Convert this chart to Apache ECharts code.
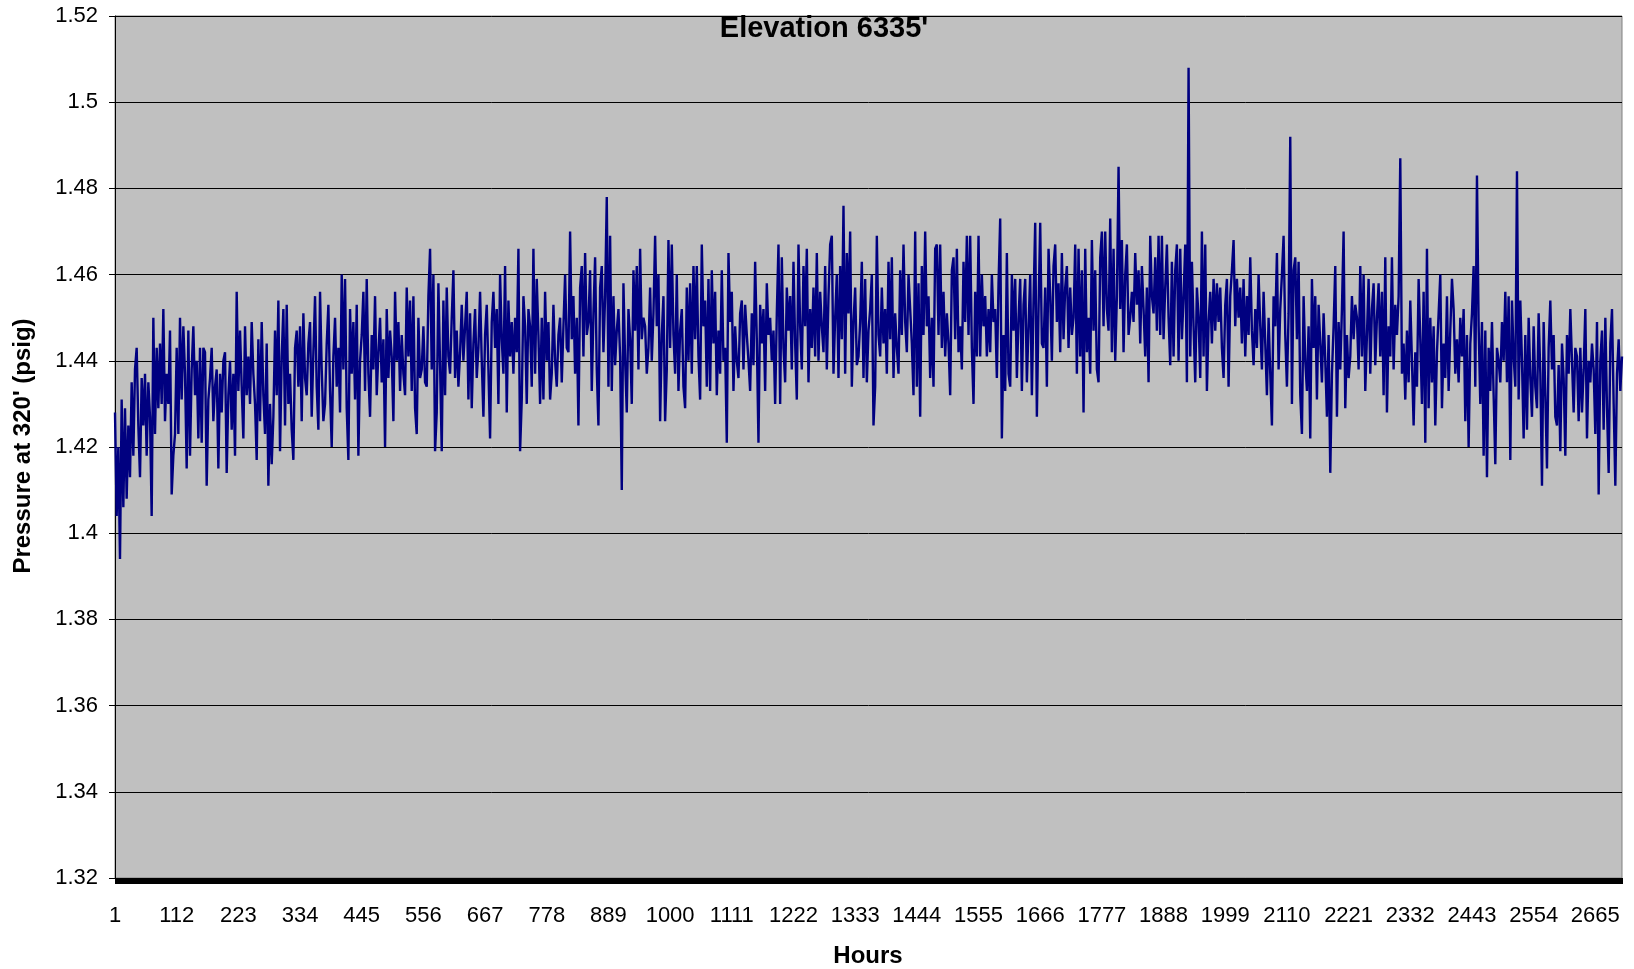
<!DOCTYPE html>
<html>
<head>
<meta charset="utf-8">
<script src="https://cdn.jsdelivr.net/npm/echarts@6/dist/echarts.min.js"></script>
<style>
  html, body { margin: 0; padding: 0; background: #fff; }
  #chart { width: 1634px; height: 969px; }
</style>
</head>
<body>
<div id="chart"></div>
<script>
// Pressure at 320' (psig), one reading every 3 hours, in blocks of consecutive readings
const block01 = [1.428,1.404,1.420,1.394,1.431,1.406,1.429,1.408,1.425,1.413,1.435,1.418,1.438,1.443,1.425,1.413,1.436,1.425,1.437,1.418,1.435,1.427,1.404,1.450,1.423,1.443,1.429,1.444,1.430,1.452,1.426,1.437,1.430,1.447,1.409,1.418,1.423,1.443,1.423,1.450,1.431,1.448,1.437,1.415,1.447,1.418,1.438,1.448,1.432,1.440,1.422,1.443,1.421,1.443,1.442,1.411,1.431,1.436,1.443,1.426,1.434,1.438,1.415,1.437,1.428,1.440,1.442,1.414,1.432,1.440,1.424,1.437,1.418,1.456,1.433,1.447,1.434,1.422,1.448,1.432,1.441,1.430,1.449];
const block02 = [1.437,1.430,1.417,1.445,1.426,1.449,1.432,1.423,1.444,1.411,1.430,1.416,1.427,1.447,1.432,1.454,1.419,1.441,1.452,1.425,1.453,1.430,1.437,1.424,1.417,1.443,1.447,1.434,1.448,1.426,1.451,1.436,1.432,1.444,1.449,1.427,1.442,1.455,1.434,1.424,1.456,1.438,1.426,1.430,1.444,1.453,1.433,1.420,1.441,1.450,1.434,1.443,1.428,1.460,1.438,1.459,1.429,1.417,1.452,1.437,1.449,1.431,1.453,1.418,1.440,1.446,1.456,1.433,1.459,1.437,1.427,1.446,1.438,1.455,1.432,1.442,1.450,1.435,1.445,1.420,1.452,1.436,1.447];
const block03 = [1.441,1.426,1.456,1.440,1.449,1.433,1.446,1.437,1.432,1.457,1.441,1.454,1.433,1.455,1.429,1.423,1.450,1.436,1.438,1.448,1.435,1.434,1.455,1.466,1.438,1.460,1.419,1.428,1.458,1.439,1.419,1.454,1.432,1.457,1.441,1.437,1.450,1.461,1.436,1.447,1.434,1.442,1.453,1.440,1.448,1.456,1.431,1.451,1.429,1.444,1.452,1.436,1.443,1.456,1.440,1.427,1.446,1.453,1.438,1.422,1.449,1.456,1.443,1.452,1.430,1.460,1.445,1.437,1.462,1.428,1.454,1.441,1.449,1.437,1.450,1.442,1.466,1.419,1.431,1.455,1.448,1.430,1.452];
const block04 = [1.448,1.434,1.466,1.437,1.459,1.446,1.430,1.450,1.431,1.456,1.440,1.449,1.431,1.437,1.453,1.440,1.434,1.446,1.450,1.435,1.448,1.460,1.443,1.442,1.470,1.445,1.455,1.437,1.450,1.425,1.457,1.462,1.441,1.465,1.446,1.449,1.461,1.433,1.451,1.464,1.438,1.425,1.457,1.462,1.442,1.455,1.478,1.434,1.469,1.433,1.455,1.439,1.447,1.452,1.441,1.410,1.458,1.440,1.428,1.452,1.445,1.430,1.461,1.447,1.462,1.438,1.466,1.445,1.450,1.448,1.437,1.443,1.457,1.440,1.451,1.469,1.448,1.460,1.426,1.446,1.455,1.426];
const block05 = [1.438,1.468,1.443,1.467,1.446,1.437,1.460,1.433,1.447,1.452,1.434,1.429,1.457,1.440,1.458,1.437,1.462,1.445,1.462,1.441,1.431,1.467,1.448,1.454,1.434,1.459,1.433,1.461,1.444,1.456,1.432,1.447,1.437,1.461,1.440,1.443,1.421,1.465,1.449,1.456,1.433,1.448,1.440,1.436,1.451,1.454,1.438,1.453,1.446,1.440,1.433,1.451,1.439,1.463,1.445,1.421,1.453,1.444,1.452,1.433,1.458,1.446,1.450,1.440,1.447,1.430,1.451,1.467,1.430,1.464,1.443,1.435,1.457,1.447,1.455,1.438,1.463,1.444,1.431,1.467,1.448,1.438,1.462];
const block06 = [1.448,1.466,1.435,1.452,1.443,1.457,1.441,1.465,1.440,1.456,1.448,1.442,1.462,1.438,1.455,1.467,1.469,1.437,1.450,1.460,1.436,1.462,1.445,1.476,1.437,1.465,1.451,1.470,1.434,1.449,1.457,1.439,1.441,1.449,1.463,1.436,1.459,1.435,1.447,1.452,1.460,1.425,1.434,1.469,1.446,1.441,1.457,1.444,1.452,1.437,1.463,1.445,1.464,1.436,1.451,1.443,1.437,1.461,1.446,1.467,1.449,1.442,1.460,1.452,1.444,1.432,1.470,1.434,1.458,1.427,1.462,1.446,1.470,1.448,1.455,1.436,1.450,1.434,1.466,1.467,1.446,1.467,1.443];
const block07 = [1.456,1.441,1.451,1.444,1.432,1.461,1.464,1.445,1.466,1.442,1.448,1.438,1.463,1.449,1.469,1.446,1.469,1.443,1.430,1.456,1.441,1.469,1.441,1.460,1.448,1.455,1.441,1.452,1.442,1.460,1.449,1.452,1.436,1.458,1.473,1.422,1.446,1.433,1.465,1.437,1.434,1.460,1.447,1.459,1.436,1.450,1.459,1.433,1.453,1.459,1.435,1.448,1.460,1.432,1.454,1.472,1.427,1.452,1.472,1.444,1.443,1.457,1.434,1.466,1.455,1.440,1.462,1.467,1.449,1.458,1.442,1.465,1.445,1.457,1.462,1.443,1.457,1.446,1.450,1.467,1.437,1.466,1.441];
const block08 = [1.461,1.428,1.466,1.442,1.450,1.437,1.468,1.447,1.461,1.438,1.435,1.464,1.470,1.448,1.470,1.452,1.447,1.473,1.442,1.466,1.440,1.455,1.485,1.452,1.468,1.442,1.460,1.467,1.446,1.450,1.456,1.449,1.465,1.453,1.461,1.444,1.462,1.452,1.441,1.457,1.435,1.469,1.455,1.451,1.464,1.447,1.469,1.446,1.469,1.445,1.457,1.467,1.450,1.439,1.463,1.441,1.461,1.467,1.440,1.466,1.445,1.455,1.467,1.435,1.508,1.441,1.463,1.448,1.435,1.457,1.450,1.436,1.470,1.441,1.467,1.433,1.449,1.456,1.444,1.459,1.447,1.458];
const block09 = [1.449,1.457,1.443,1.436,1.453,1.459,1.434,1.455,1.461,1.468,1.448,1.459,1.450,1.457,1.444,1.459,1.441,1.455,1.446,1.464,1.447,1.439,1.452,1.443,1.460,1.448,1.438,1.456,1.444,1.432,1.450,1.437,1.425,1.455,1.448,1.465,1.438,1.452,1.460,1.469,1.446,1.434,1.451,1.492,1.430,1.461,1.464,1.445,1.463,1.432,1.423,1.455,1.440,1.433,1.448,1.422,1.459,1.443,1.455,1.431,1.453,1.444,1.435,1.451,1.440,1.427,1.446,1.414,1.437,1.448,1.462,1.427,1.449,1.438,1.452,1.470,1.429,1.446,1.436,1.441,1.455,1.445,1.453];
const block10 = [1.450,1.438,1.462,1.441,1.460,1.433,1.446,1.459,1.437,1.452,1.458,1.439,1.450,1.458,1.441,1.456,1.432,1.464,1.428,1.448,1.441,1.464,1.438,1.453,1.446,1.455,1.487,1.437,1.444,1.431,1.447,1.435,1.454,1.440,1.425,1.442,1.434,1.459,1.445,1.430,1.456,1.421,1.466,1.429,1.450,1.435,1.448,1.425,1.442,1.451,1.460,1.429,1.444,1.436,1.455,1.433,1.447,1.459,1.452,1.437,1.445,1.435,1.450,1.441,1.452,1.426,1.446,1.420,1.444,1.451,1.462,1.434,1.483,1.448,1.430,1.449,1.418,1.447,1.413,1.443,1.433,1.449,1.432];
const block11 = [1.416,1.443,1.440,1.435,1.449,1.440,1.456,1.435,1.455,1.417,1.454,1.441,1.434,1.484,1.431,1.454,1.440,1.422,1.446,1.424,1.450,1.436,1.427,1.448,1.434,1.429,1.451,1.437,1.411,1.449,1.432,1.415,1.443,1.454,1.438,1.446,1.427,1.425,1.439,1.419,1.444,1.436,1.418,1.446,1.437,1.452,1.440,1.428,1.443,1.441,1.426,1.443,1.428,1.438,1.452,1.422,1.440,1.435,1.444,1.438,1.423,1.449,1.409,1.440,1.447,1.424,1.450,1.429,1.414,1.444,1.452,1.430,1.411,1.437,1.445,1.433,1.441];

const HOURS_TOTAL = 2713;      // hours on the category axis
const READING_STEP = 3;        // hours between stored readings
const LABEL_EVERY = 111;       // hour labels: 1, 112, 223, ...

const hours = [];
for (let h = 1; h <= HOURS_TOTAL; h++) hours.push(String(h));

const pressure = [].concat(block01, block02, block03, block04, block05, block06,
                           block07, block08, block09, block10, block11);
const points = pressure.map((v, i) => [i * READING_STEP, v]);

const FONT = "'Liberation Sans', Arial, Helvetica, sans-serif";

const chart = echarts.init(document.getElementById('chart'), null, { renderer: 'canvas' });
chart.setOption({
  animation: false,
  backgroundColor: '#ffffff',
  grid: {
    left: 115, right: 12, top: 16, bottom: 91,
    show: true, backgroundColor: '#C0C0C0', borderColor: '#808080', borderWidth: 1
  },
  xAxis: {
    type: 'category',
    data: hours,
    boundaryGap: false,
    axisLine: { lineStyle: { color: '#000', width: 1 } },
    axisTick: { show: true, interval: 0, length: 6, lineStyle: { color: '#000', width: 1 } },
    axisLabel: { interval: LABEL_EVERY - 1, color: '#000', fontSize: 22, fontFamily: FONT, margin: 27 },
    splitLine: { show: false }
  },
  yAxis: {
    type: 'value',
    min: 1.32, max: 1.52, interval: 0.02,
    axisLine: { show: true, lineStyle: { color: '#000', width: 1 } },
    axisTick: { show: true, length: 6, lineStyle: { color: '#000' } },
    axisLabel: { color: '#000', fontSize: 22, fontFamily: FONT, margin: 17 },
    splitLine: { show: true, lineStyle: { color: '#000', width: 1 } }
  },
  series: [{
    type: 'line',
    data: points,
    symbol: 'none',
    showSymbol: false,
    sampling: null,
    silent: true,
    lineStyle: { color: '#000080', width: 2.4 }
  }],
  graphic: [
    {
      type: 'text', x: 824, y: 29, z: 10,
      style: { text: "Elevation 6335'", font: 'bold 29px ' + FONT, fill: '#000',
               textAlign: 'center', textVerticalAlign: 'middle' }
    },
    {
      type: 'text', x: 23, y: 446, rotation: Math.PI / 2, z: 10,
      style: { text: "Pressure at 320' (psig)", font: 'bold 24px ' + FONT, fill: '#000',
               textAlign: 'center', textVerticalAlign: 'middle' }
    },
    {
      type: 'text', x: 868, y: 956, z: 10,
      style: { text: 'Hours', font: 'bold 24px ' + FONT, fill: '#000',
               textAlign: 'center', textVerticalAlign: 'middle' }
    }
  ]
});
</script>
</body>
</html>
